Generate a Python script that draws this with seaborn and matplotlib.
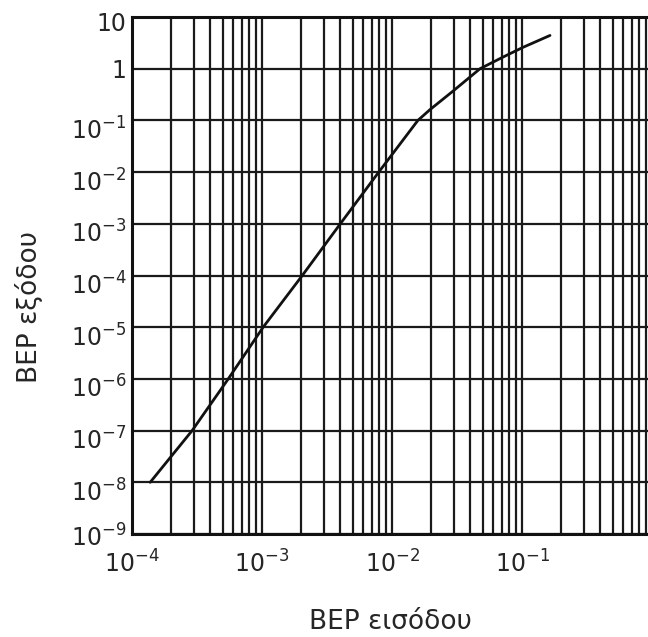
import matplotlib
matplotlib.use("Agg")
import matplotlib.pyplot as plt
import matplotlib.transforms as mtransforms
from matplotlib.ticker import LogLocator, NullFormatter
import seaborn as sns
import pandas as pd

# curve (log-log)
ber_in = [1.38e-4, 2.9e-4, 5.5e-4, 1.02e-3, 2.04e-3, 4.0e-3, 7.9e-3,
          1.58e-2, 1.96e-2, 2.94e-2, 4.75e-2, 7.14e-2, 0.102, 0.164]
ber_out = [1e-8, 1e-7, 1e-6, 1e-5, 1e-4, 1e-3, 1e-2,
           1e-1, 0.162, 0.368, 1.0, 1.68, 2.6, 4.4]

x_ticks = [1e-4, 1e-3, 1e-2, 1e-1]
x_labels = ["$10^{-4}$", "$10^{-3}$", "$10^{-2}$", "$10^{-1}$"]
y_ticks = [1e-9, 1e-8, 1e-7, 1e-6, 1e-5, 1e-4, 1e-3, 1e-2, 1e-1, 1, 10]
y_labels = ["$10^{-9}$", "$10^{-8}$", "$10^{-7}$", "$10^{-6}$", "$10^{-5}$",
            "$10^{-4}$", "$10^{-3}$", "$10^{-2}$", "$10^{-1}$", "1", "10"]

df = pd.DataFrame({"in": ber_in, "out": ber_out})

sns.set_style("white")
plt.rcParams["font.family"] = ["DejaVu Sans"]
plt.rcParams["mathtext.default"] = "regular"

fig = plt.figure(figsize=(6.48, 6.37), dpi=100)
ax = fig.add_axes([0.2037, 0.1617, 0.7963, 0.8116])
ax.set_xscale("log")
ax.set_yscale("log")

sns.lineplot(data=df, x="in", y="out", ax=ax, color="#111111", lw=2, sort=False)

ax.set_xlim(1e-4, 0.93)
ax.set_ylim(1e-9, 10)

ax.xaxis.set_minor_locator(LogLocator(base=10, subs=range(2, 10), numticks=50))
ax.xaxis.set_minor_formatter(NullFormatter())
ax.yaxis.set_minor_locator(LogLocator(base=10, subs=[], numticks=50))
ax.set_xticks(x_ticks, x_labels, fontsize=17)
ax.set_yticks(y_ticks, y_labels, fontsize=17)
ax.tick_params(which="both", length=0)
ax.tick_params(axis="x", pad=12)
ax.tick_params(axis="y", pad=4)

ax.grid(which="both", axis="x", color="#1a1a1a", lw=1.6)
ax.grid(which="major", axis="y", color="#1a1a1a", lw=1.6)

# in the scan the "10" of each label sits below its grid line
ylabs = ax.get_yticklabels()
for i, lab in enumerate(ylabs):
    if i == 0:
        dy = -2
    elif i < len(ylabs) - 2:
        dy = -8
    elif i == len(ylabs) - 1:
        dy = -4
    else:
        dy = 0
    lab.set_transform(lab.get_transform() +
                      mtransforms.ScaledTranslation(0, dy / 100, fig.dpi_scale_trans))

for side in ["left", "bottom", "top"]:
    ax.spines[side].set_color("#111111")
    ax.spines[side].set_linewidth(2.2)
ax.spines["right"].set_visible(False)

ax.set_xlabel("BEP εισόδου", fontsize=19, va="top")
ax.xaxis.set_label_coords(0.5, -0.145)
ax.set_ylabel("BEP εξόδου", fontsize=19, va="center")
ax.yaxis.set_label_coords(-0.2, 0.44)

fig.savefig("out.png", dpi=100)
